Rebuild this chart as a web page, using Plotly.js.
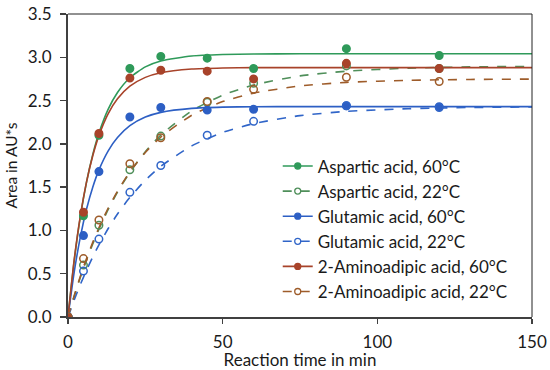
<!DOCTYPE html>
<html><head><meta charset="utf-8">
<script src="https://cdn.plot.ly/plotly-3.0.1.min.js"></script>
<style>html,body{margin:0;padding:0;background:#fff}#chart{width:550px;height:370px}</style>
</head><body><div id="chart"></div>
<script>
// Measured data points (time in min, area in AU*s)
const tData = [0, 5, 10, 20, 30, 45, 60, 90, 120];
const asp60 = [0, 1.17, 2.10, 2.87, 3.01, 2.99, 2.87, 3.10, 3.02];
const asp22 = [0, 0.60, 1.06, 1.70, 2.09, 2.48, 2.70, 2.90, 2.87];
const glu60 = [0, 0.94, 1.68, 2.31, 2.42, 2.39, 2.40, 2.44, 2.43];
const glu22 = [0, 0.53, 0.90, 1.44, 1.75, 2.10, 2.26, 2.44, 2.42];
const ami60 = [0, 1.21, 2.12, 2.76, 2.85, 2.84, 2.75, 2.93, 2.87];
const ami22 = [0, 0.675, 1.12, 1.77, 2.07, 2.49, 2.63, 2.77, 2.72];

// Fitted curves
const tFit = [0, 2, 4, 6, 8, 10, 13, 16, 20, 25, 30, 40, 50, 60, 75, 90, 110, 130, 150];
const asp60Fit = [0, 0.648, 1.159, 1.560, 1.876, 2.125, 2.402, 2.594, 2.764, 2.889, 2.957, 3.015, 3.032, 3.038, 3.04, 3.04, 3.04, 3.04, 3.04];
const ami60Fit = [0, 0.660, 1.167, 1.560, 1.862, 2.095, 2.349, 2.520, 2.666, 2.768, 2.822, 2.864, 2.876, 2.88, 2.88, 2.88, 2.88, 2.88, 2.88];
const glu60Fit = [0, 0.518, 0.926, 1.247, 1.499, 1.699, 1.920, 2.073, 2.210, 2.309, 2.364, 2.410, 2.424, 2.429, 2.43, 2.43, 2.43, 2.43, 2.43];
const asp22Fit = [0, 0.238, 0.458, 0.659, 0.844, 1.013, 1.242, 1.442, 1.673, 1.910, 2.102, 2.381, 2.562, 2.680, 2.785, 2.839, 2.874, 2.889, 2.895];
const ami22Fit = [0, 0.247, 0.471, 0.676, 0.862, 1.031, 1.257, 1.454, 1.676, 1.901, 2.079, 2.330, 2.488, 2.586, 2.669, 2.710, 2.734, 2.744, 2.748];
const glu22Fit = [0, 0.196, 0.376, 0.541, 0.694, 0.833, 1.022, 1.189, 1.381, 1.580, 1.741, 1.977, 2.132, 2.234, 2.326, 2.375, 2.406, 2.420, 2.426];

const names = ["Aspartic acid, 60°C", "Aspartic acid, 22°C", "Glutamic acid, 60°C",
               "Glutamic acid, 22°C", "2-Aminoadipic acid, 60°C", "2-Aminoadipic acid, 22°C"];
const xTicks = [0, 50, 100, 150];
const yTicks = [0, 0.5, 1.0, 1.5, 2.0, 2.5, 3.0, 3.5];

const series = [
  {name: names[0], d: asp60, f: asp60Fit, c: "#2f9a5a", dash: "solid", open: false},
  {name: names[1], d: asp22, f: asp22Fit, c: "#4f8f5a", dash: "dash", open: true},
  {name: names[2], d: glu60, f: glu60Fit, c: "#2d5fc4", dash: "solid", open: false},
  {name: names[3], d: glu22, f: glu22Fit, c: "#3065c8", dash: "dash", open: true},
  {name: names[4], d: ami60, f: ami60Fit, c: "#a8432a", dash: "solid", open: false},
  {name: names[5], d: ami22, f: ami22Fit, c: "#9e5c2a", dash: "dash", open: true}
];

const traces = [];
series.forEach(s => {
  traces.push({x: tFit, y: s.f, mode: "lines", line: {color: s.c, width: 1.6, dash: s.dash, shape: "spline", smoothing: 0.6},
    showlegend: false, hoverinfo: "skip"});
});
series.forEach(s => {
  traces.push({x: tData, y: s.d, mode: "markers", showlegend: false,
    marker: {symbol: s.open ? "circle-open" : "circle", size: 7.5, color: s.c, line: {width: 1.5, color: s.c}}});
});
series.forEach(s => {
  traces.push({x: [null], y: [null], name: s.name, mode: "lines+markers",
    line: {color: s.c, width: 1.6, dash: s.dash},
    marker: {symbol: s.open ? "circle-open" : "circle", size: 6, color: s.c, line: {width: 1.3, color: s.c}}});
});

const fam = "Lato, 'Liberation Sans', sans-serif";
const txt = "#1a1a1a";
const layout = {
  width: 550, height: 370,
  margin: {l: 68, r: 18, t: 14, b: 53},
  paper_bgcolor: "#fff", plot_bgcolor: "#fff",
  font: {family: fam, size: 17, color: txt},
  showlegend: true,
  legend: {x: 0.452, y: 0.025, xanchor: "left", yanchor: "bottom", bgcolor: "rgba(255,255,255,0)",
    font: {family: fam, size: 17, color: txt}, tracegroupgap: 0, itemwidth: 30},
  xaxis: {range: [0, 150], tickvals: xTicks, ticktext: xTicks.map(String), showgrid: false, zeroline: false,
    showline: true, linecolor: "#404040", linewidth: 2, ticks: "outside", ticklen: 5, tickwidth: 1.5, tickcolor: "#404040",
    ticklabelstandoff: 4, tickfont: {family: fam, size: 17, color: txt},
    title: {text: "Reaction time in min", font: {family: fam, size: 17, color: txt}, standoff: 0}},
  yaxis: {range: [0, 3.5], tickvals: yTicks, ticktext: yTicks.map(v => v.toFixed(1)), showgrid: false, zeroline: false,
    showline: true, linecolor: "#404040", linewidth: 2, ticks: "outside", ticklen: 6, tickwidth: 1.5, tickcolor: "#404040",
    ticklabelstandoff: 5, tickfont: {family: fam, size: 17, color: txt},
    title: {text: "Area in AU*s", font: {family: fam, size: 15.5, color: txt}, standoff: 6}},
  shapes: [
    {type: "line", xref: "paper", yref: "paper", x0: 0, x1: 1, y0: 1, y1: 1, line: {color: "#222", width: 1}},
    {type: "line", xref: "paper", yref: "paper", x0: 1, x1: 1, y0: 0, y1: 1, line: {color: "#222", width: 1}}
  ]
};
Plotly.newPlot("chart", traces, layout, {displayModeBar: false, staticPlot: true});
</script></body></html>
